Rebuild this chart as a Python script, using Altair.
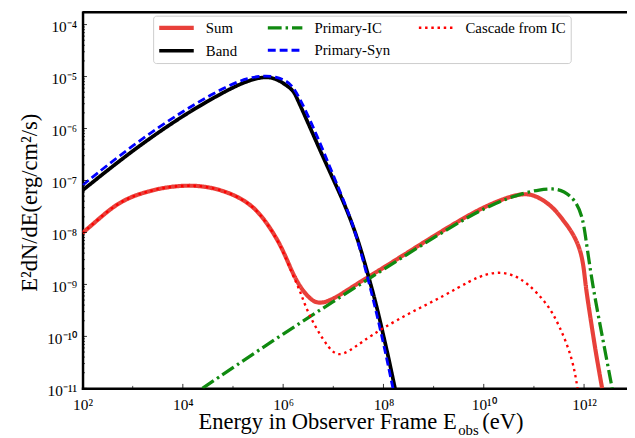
import math
import altair as alt
import pandas as pd

# ---------------- data (log10 E [eV], log10 E^2 dN/dE [erg/cm^2/s]) ----------------
sum_logE = [2.0, 2.3, 2.65, 3.0, 3.31, 3.6, 4.03, 4.49, 4.98, 5.38, 5.67, 5.97, 6.17, 6.36, 6.56,
            6.70, 6.95, 7.5, 8.0, 9.0, 9.55, 10.0, 10.5, 10.85, 11.1, 11.38, 11.58, 11.77, 11.93,
            12.0, 12.03, 12.13, 12.23, 12.36]
sum_logF = [-8.01, -7.76, -7.47, -7.30, -7.21, -7.14, -7.09, -7.11, -7.25, -7.47, -7.80, -8.27, -8.75,
            -9.09, -9.30, -9.37, -9.32, -8.97, -8.68, -8.07, -7.75, -7.51, -7.31, -7.24, -7.32, -7.51,
            -7.76, -8.00, -8.33, -8.71, -9.03, -9.66, -10.29, -11.0]

band_logE = [2.0, 2.98, 4.04, 4.94, 5.3, 5.61, 5.85, 6.07, 6.2, 6.26, 6.5, 6.75, 7.0, 7.25, 7.5, 7.7,
             7.85, 7.97, 8.1, 8.23]
band_logF = [-7.19, -6.43, -5.72, -5.23, -5.08, -5.0, -5.03, -5.17, -5.27, -5.38, -5.9, -6.45, -6.98,
             -7.51, -8.15, -8.84, -9.36, -9.86, -10.4, -11.0]

ic_logE = [4.39, 5.0, 6.0, 7.0, 8.0, 9.0, 9.55, 10.0, 10.5, 10.85, 11.1, 11.38, 11.6, 11.83, 11.97,
           12.03, 12.17, 12.36, 12.56]
ic_logF = [-11.0, -10.6, -9.95, -9.33, -8.71, -8.1, -7.78, -7.54, -7.33, -7.23, -7.18, -7.15, -7.2,
           -7.38, -7.70, -8.08, -9.03, -9.98, -11.0]

syn_logE = [2.0, 2.98, 4.04, 4.94, 5.3, 5.61, 5.85, 6.07, 6.2, 6.33, 6.45, 6.66, 7.0, 7.34, 7.5, 7.68,
            7.94, 8.19]
syn_logF = [-7.09, -6.33, -5.63, -5.15, -5.03, -4.98, -5.0, -5.08, -5.2, -5.42, -5.66, -6.1, -6.9,
            -7.70, -8.2, -8.84, -9.85, -11.0]

cas_logE = [2.0, 2.3, 2.65, 3.0, 3.31, 3.6, 4.03, 4.49, 4.98, 5.38, 5.67, 5.97, 6.17, 6.33, 6.46, 6.66,
            6.91, 7.09, 7.31, 7.58, 7.97, 8.56, 9.21, 9.74, 10.05, 10.33, 10.6, 10.85, 11.25, 11.51,
            11.77, 11.87]
cas_logF = [-8.01, -7.76, -7.47, -7.30, -7.21, -7.14, -7.09, -7.11, -7.25, -7.47, -7.80, -8.28, -8.78,
            -9.10, -9.47, -9.85, -10.23, -10.38, -10.29, -10.10, -9.85, -9.53, -9.22, -8.92, -8.80,
            -8.76, -8.82, -8.96, -9.34, -9.79, -10.42, -11.0]

series_order = ["Sum", "Band", "Primary-IC", "Primary-Syn", "Cascade from IC"]
colors = ["#e8403a", "#000000", "#108a10", "#0000ff", "#ff0000"]
dashes = [[1, 0], [1, 0], [14, 4, 2.5, 4], [8, 4], [2.5, 3.8]]
widths = [4.2, 2.4, 2.4, 2.4, 2.5]

x_major = [1e2, 1e4, 1e6, 1e8, 1e10, 1e12]
x_minor = [1e3, 1e5, 1e7, 1e9, 1e11]
y_major = [1e-11, 1e-10, 1e-9, 1e-8, 1e-7, 1e-6, 1e-5, 1e-4]
y_minor = [k * 10.0 ** n for n in range(-11, -4) for k in range(2, 10)]

rows = []
for name, le, lf in [("Sum", sum_logE, sum_logF), ("Band", band_logE, band_logF),
                     ("Primary-IC", ic_logE, ic_logF), ("Primary-Syn", syn_logE, syn_logF),
                     ("Cascade from IC", cas_logE, cas_logF)]:
    for a, b in zip(le, lf):
        rows.append({"series": name, "E": 10 ** a, "F": 10 ** b})
df = pd.DataFrame(rows)

# ---------------- layout ----------------
W = 551.5
H = 381
FONT = "Liberation Serif"

SUP = str.maketrans("-0123456789", "\u207b\u2070\u00b9\u00b2\u00b3\u2074\u2075\u2076\u2077\u2078\u2079")


def label_expr(vals):
    parts = []
    for v in vals:
        e = round(math.log10(v))
        parts.append(f"datum.value < {v * 3:.3e} ? '10{str(e).translate(SUP)}' : ")
    return "".join(parts) + "''"


xscale = alt.Scale(type="log", domain=[1e2, 10 ** 12.856], nice=False)
yscale = alt.Scale(type="log", domain=[1e-11, 10 ** -3.762], nice=False)

xaxis = alt.Axis(values=x_major, labelExpr=label_expr(x_major), ticks=False, tickSize=0, grid=False,
                 domainColor="black", domainWidth=2.5, domainCap="square", labelFont=FONT,
                 labelFontSize=15.5, labelColor="black", labelPadding=9, labelFlush=False,
                 labelOverlap=False, title=None)
yaxis = alt.Axis(values=y_major, labelExpr=label_expr(y_major), ticks=False, tickSize=0, grid=False,
                 domainColor="black", domainWidth=2.5, domainCap="square", labelFont=FONT,
                 labelFontSize=15.5, labelColor="black", labelPadding=6, labelFlush=False,
                 labelOverlap=False, labelOffset=2,
                 title="E\u00b2dN/dE(erg/cm\u00b2/s)", titleFont=FONT, titleFontSize=22.8,
                 titleFontWeight="normal", titleColor="black", titleX=-53.5, titleY=H / 2 + 2,
                 titleAngle=270, titleAlign="center", titleBaseline="middle")

X = alt.X("E:Q", scale=xscale, axis=xaxis)
Y = alt.Y("F:Q", scale=yscale, axis=yaxis)

legend = alt.Legend(title=None, orient="none", legendX=71.5, legendY=3.5, columns=3,
                    direction="vertical",
                    symbolType="M-3,0H3", symbolSize=136, symbolOffset=11.67,
                    labelFont=FONT, labelFontSize=15, labelFontWeight="normal",
                    labelColor="black", labelOffset=21.7, columnPadding=23, rowPadding=6.5, padding=4,
                    fillColor="white", strokeColor="#cccccc", cornerRadius=3)

line_layers = []
for s in series_order:
    line_layers.append(
        alt.Chart(df).transform_filter(alt.datum.series == s)
        .mark_line(clip=True, interpolate="basis", strokeCap="butt")
        .encode(
            x=X, y=Y,
            color=alt.Color("series:N", scale=alt.Scale(domain=series_order, range=colors), legend=legend),
            strokeDash=alt.StrokeDash("series:N", scale=alt.Scale(domain=series_order, range=dashes), legend=legend),
            strokeWidth=alt.StrokeWidth("series:N", scale=alt.Scale(domain=series_order, range=widths), legend=legend),
        )
    )

xt_major = alt.Chart(pd.DataFrame({"E": x_major})).mark_rule(color="black", strokeWidth=0.8).encode(
    x=X, y=alt.value(H), y2=alt.value(H - 4.5))
xt_minor = alt.Chart(pd.DataFrame({"E": x_minor})).mark_rule(color="black", strokeWidth=0.7).encode(
    x=X, y=alt.value(H), y2=alt.value(H - 2.5))
yt_major = alt.Chart(pd.DataFrame({"F": y_major})).mark_rule(color="black", strokeWidth=0.8).encode(
    y=Y, x=alt.value(0), x2=alt.value(4.5))
yt_minor = alt.Chart(pd.DataFrame({"F": y_minor})).mark_rule(color="black", strokeWidth=0.7).encode(
    y=Y, x=alt.value(0), x2=alt.value(2.5))

top_line = alt.Chart(pd.DataFrame({"a": [0]})).mark_rule(color="black", strokeWidth=2.5).encode(
    x=alt.value(0), x2=alt.value(W), y=alt.value(0))

xt_main = alt.Chart(pd.DataFrame({"t": ["Energy in Observer Frame E"]})).mark_text(
    font=FONT, fontSize=22.8, align="right", baseline="alphabetic", color="black").encode(
    text="t:N", x=alt.value(379), y=alt.value(422.5))
xt_sub = alt.Chart(pd.DataFrame({"t": ["obs"]})).mark_text(
    font=FONT, fontSize=15, align="left", baseline="alphabetic", color="black").encode(
    text="t:N", x=alt.value(380.5), y=alt.value(428))
xt_unit = alt.Chart(pd.DataFrame({"t": ["(eV)"]})).mark_text(
    font=FONT, fontSize=22.8, align="left", baseline="alphabetic", color="black").encode(
    text="t:N", x=alt.value(405), y=alt.value(422.5))

chart = alt.layer(*line_layers, xt_major, xt_minor, yt_major, yt_minor, top_line,
                  xt_main, xt_sub, xt_unit).properties(
    width=W, height=H,
    autosize=alt.AutoSizeParams(type="none"),
    padding={"left": 75.5, "top": 1.5, "right": 0, "bottom": 47.5},
).configure_view(stroke=None).configure_legend(
    labelFont=FONT, labelFontSize=15, labelFontWeight="normal", labelColor="black"
)

chart.save("out.html", embed_options={"renderer": "svg", "actions": False})
